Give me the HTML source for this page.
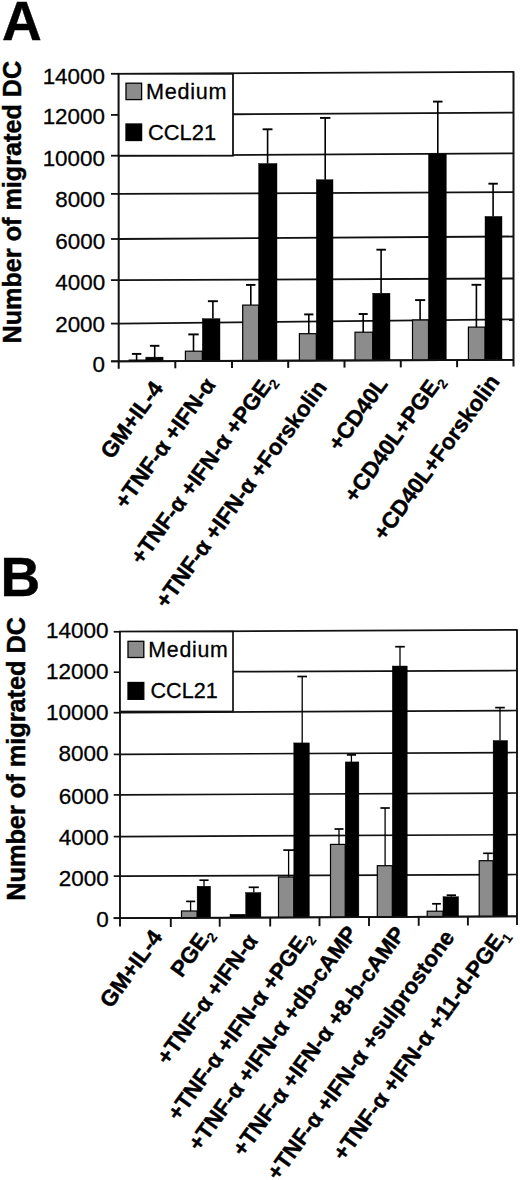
<!DOCTYPE html><html><head><meta charset="utf-8"><style>html,body{margin:0;padding:0;background:#fff;}svg{display:block;}text{font-family:"Liberation Sans",sans-serif;fill:#000;stroke:#000;stroke-width:0.3px;} text.b{stroke-width:0.45px;}</style></head><body>
<svg width="520" height="1180" viewBox="0 0 520 1180">
<rect width="520" height="1180" fill="#fff"/>
<line x1="233.0" y1="114.23" x2="513.5" y2="112.60" stroke="#111" stroke-width="1.8"/>
<line x1="118.7" y1="155.70" x2="513.5" y2="153.40" stroke="#111" stroke-width="1.8"/>
<line x1="118.7" y1="193.90" x2="513.5" y2="192.20" stroke="#111" stroke-width="1.8"/>
<line x1="118.7" y1="239.00" x2="513.5" y2="236.50" stroke="#111" stroke-width="1.8"/>
<line x1="118.7" y1="280.10" x2="513.5" y2="278.50" stroke="#111" stroke-width="1.8"/>
<line x1="118.7" y1="323.60" x2="513.5" y2="319.40" stroke="#111" stroke-width="1.8"/>
<line x1="118.7" y1="361.30" x2="513.5" y2="359.80" stroke="#111" stroke-width="1.8"/>
<line x1="118.7" y1="73.80" x2="513.5" y2="71.90" stroke="#111" stroke-width="1.8"/>
<line x1="111.0" y1="73.80" x2="118.7" y2="73.80" stroke="#111" stroke-width="1.8"/>
<line x1="111.0" y1="114.90" x2="118.7" y2="114.90" stroke="#111" stroke-width="1.8"/>
<line x1="111.0" y1="155.70" x2="118.7" y2="155.70" stroke="#111" stroke-width="1.8"/>
<line x1="111.0" y1="193.90" x2="118.7" y2="193.90" stroke="#111" stroke-width="1.8"/>
<line x1="111.0" y1="239.00" x2="118.7" y2="239.00" stroke="#111" stroke-width="1.8"/>
<line x1="111.0" y1="280.10" x2="118.7" y2="280.10" stroke="#111" stroke-width="1.8"/>
<line x1="111.0" y1="323.60" x2="118.7" y2="323.60" stroke="#111" stroke-width="1.8"/>
<line x1="111.0" y1="361.30" x2="118.7" y2="361.30" stroke="#111" stroke-width="1.8"/>
<rect x="129.2" y="360.1" width="16.6" height="1.1" fill="#8c8c8c" stroke="#000" stroke-width="1.2"/>
<line x1="136.6" y1="360.1" x2="136.6" y2="353.9" stroke="#000" stroke-width="1.6"/>
<line x1="131.9" y1="353.9" x2="141.3" y2="353.9" stroke="#000" stroke-width="1.9"/>
<rect x="145.8" y="357.1" width="17.3" height="4.1" fill="#000" stroke="#000" stroke-width="0.4"/>
<line x1="154.7" y1="357.1" x2="154.7" y2="345.8" stroke="#000" stroke-width="1.6"/>
<line x1="149.9" y1="345.8" x2="159.4" y2="345.8" stroke="#000" stroke-width="1.9"/>
<rect x="185.4" y="351.2" width="16.9" height="9.8" fill="#8c8c8c" stroke="#000" stroke-width="1.2"/>
<line x1="193.5" y1="351.2" x2="193.5" y2="334.4" stroke="#000" stroke-width="1.6"/>
<line x1="188.3" y1="334.4" x2="198.7" y2="334.4" stroke="#000" stroke-width="1.9"/>
<rect x="202.3" y="318.6" width="17.7" height="42.3" fill="#000" stroke="#000" stroke-width="0.4"/>
<line x1="212.9" y1="318.6" x2="212.9" y2="301.2" stroke="#000" stroke-width="1.6"/>
<line x1="207.9" y1="301.2" x2="217.9" y2="301.2" stroke="#000" stroke-width="1.9"/>
<rect x="242.7" y="305.1" width="15.9" height="55.7" fill="#8c8c8c" stroke="#000" stroke-width="1.2"/>
<line x1="250.8" y1="305.1" x2="250.8" y2="284.9" stroke="#000" stroke-width="1.6"/>
<line x1="246.0" y1="284.9" x2="255.5" y2="284.9" stroke="#000" stroke-width="1.9"/>
<rect x="258.6" y="163.5" width="18.4" height="197.2" fill="#000" stroke="#000" stroke-width="0.4"/>
<line x1="267.6" y1="163.5" x2="267.6" y2="129.3" stroke="#000" stroke-width="1.6"/>
<line x1="262.6" y1="129.3" x2="272.5" y2="129.3" stroke="#000" stroke-width="1.9"/>
<rect x="299.4" y="333.7" width="16.9" height="26.9" fill="#8c8c8c" stroke="#000" stroke-width="1.2"/>
<line x1="308.8" y1="333.7" x2="308.8" y2="314.4" stroke="#000" stroke-width="1.6"/>
<line x1="304.2" y1="314.4" x2="313.4" y2="314.4" stroke="#000" stroke-width="1.9"/>
<rect x="316.3" y="179.7" width="16.7" height="180.8" fill="#000" stroke="#000" stroke-width="0.4"/>
<line x1="325.2" y1="179.7" x2="325.2" y2="117.9" stroke="#000" stroke-width="1.6"/>
<line x1="320.0" y1="117.9" x2="330.4" y2="117.9" stroke="#000" stroke-width="1.9"/>
<rect x="355.0" y="332.2" width="17.7" height="28.2" fill="#8c8c8c" stroke="#000" stroke-width="1.2"/>
<line x1="363.2" y1="332.2" x2="363.2" y2="314.0" stroke="#000" stroke-width="1.6"/>
<line x1="358.7" y1="314.0" x2="367.7" y2="314.0" stroke="#000" stroke-width="1.9"/>
<rect x="372.7" y="293.2" width="17.3" height="67.1" fill="#000" stroke="#000" stroke-width="0.4"/>
<line x1="381.1" y1="293.2" x2="381.1" y2="249.7" stroke="#000" stroke-width="1.6"/>
<line x1="376.4" y1="249.7" x2="385.9" y2="249.7" stroke="#000" stroke-width="1.9"/>
<rect x="412.5" y="320.0" width="16.0" height="40.2" fill="#8c8c8c" stroke="#000" stroke-width="1.2"/>
<line x1="420.1" y1="320.0" x2="420.1" y2="300.1" stroke="#000" stroke-width="1.6"/>
<line x1="415.1" y1="300.1" x2="425.2" y2="300.1" stroke="#000" stroke-width="1.9"/>
<rect x="428.5" y="154.0" width="17.8" height="206.1" fill="#000" stroke="#000" stroke-width="0.4"/>
<line x1="437.8" y1="154.0" x2="437.8" y2="101.6" stroke="#000" stroke-width="1.6"/>
<line x1="433.0" y1="101.6" x2="442.5" y2="101.6" stroke="#000" stroke-width="1.9"/>
<rect x="468.4" y="327.1" width="16.6" height="32.8" fill="#8c8c8c" stroke="#000" stroke-width="1.2"/>
<line x1="476.4" y1="327.1" x2="476.4" y2="284.8" stroke="#000" stroke-width="1.6"/>
<line x1="471.5" y1="284.8" x2="481.3" y2="284.8" stroke="#000" stroke-width="1.9"/>
<rect x="485.0" y="216.4" width="17.0" height="143.5" fill="#000" stroke="#000" stroke-width="0.4"/>
<line x1="493.1" y1="216.4" x2="493.1" y2="183.7" stroke="#000" stroke-width="1.6"/>
<line x1="488.4" y1="183.7" x2="497.8" y2="183.7" stroke="#000" stroke-width="1.9"/>
<line x1="111.0" y1="361.30" x2="513.5" y2="359.80" stroke="#111" stroke-width="1.8"/>
<line x1="118.7" y1="73.10" x2="118.7" y2="368.8" stroke="#111" stroke-width="2.0"/>
<line x1="513.5" y1="71.20" x2="513.5" y2="366.5" stroke="#111" stroke-width="2.0"/>
<line x1="175.3" y1="361.1" x2="175.3" y2="368.3" stroke="#111" stroke-width="2.0"/>
<line x1="232.0" y1="360.9" x2="232.0" y2="368.1" stroke="#111" stroke-width="2.0"/>
<line x1="288.2" y1="360.7" x2="288.2" y2="367.9" stroke="#111" stroke-width="2.0"/>
<line x1="344.5" y1="360.4" x2="344.5" y2="367.6" stroke="#111" stroke-width="2.0"/>
<line x1="400.8" y1="360.2" x2="400.8" y2="367.4" stroke="#111" stroke-width="2.0"/>
<line x1="457.1" y1="360.0" x2="457.1" y2="367.2" stroke="#111" stroke-width="2.0"/>
<rect x="118.7" y="73.8" width="114.3" height="81.9" fill="#fff" stroke="#111" stroke-width="1.8"/>
<rect x="126.0" y="83.2" width="15.6" height="16.4" fill="#8c8c8c" stroke="#000" stroke-width="1.3"/>
<rect x="126.0" y="124.0" width="15.6" height="16.5" fill="#000" stroke="#000" stroke-width="1.3"/>
<text x="146.0" y="99.0" font-size="21.6" letter-spacing="0.75">Medium</text>
<text x="148.0" y="139.8" font-size="21.9" letter-spacing="0">CCL21</text>
<text x="104.9" y="83.6" font-size="22.4" text-anchor="end">14000</text>
<text x="104.9" y="123.8" font-size="22.4" text-anchor="end">12000</text>
<text x="104.9" y="165.6" font-size="22.4" text-anchor="end">10000</text>
<text x="105.0" y="206.5" font-size="22.4" text-anchor="end">8000</text>
<text x="105.1" y="248.8" font-size="22.4" text-anchor="end">6000</text>
<text x="105.1" y="290.1" font-size="22.4" text-anchor="end">4000</text>
<text x="105.0" y="331.9" font-size="22.4" text-anchor="end">2000</text>
<text x="105.0" y="372.3" font-size="22.4" text-anchor="end">0</text>
<text transform="translate(21.0,343.5) rotate(-90)" font-size="25.2" font-weight="bold" class="b">Number of migrated DC</text>
<text x="2.0" y="40.3" font-size="55" font-weight="bold" class="b">A</text>
<text transform="translate(164.0,388.4) rotate(-54)" font-size="22.4" font-weight="bold" class="b" text-anchor="end">GM+IL-4</text>
<text transform="translate(216.4,385.1) rotate(-54)" font-size="22.4" font-weight="bold" class="b" text-anchor="end">+TNF-α +IFN-α</text>
<text transform="translate(276.3,380.8) rotate(-54)" font-size="22.4" font-weight="bold" class="b" text-anchor="end">+TNF-α +IFN-α +PGE<tspan font-size="13.9" dy="5" style="stroke-width:0.15px">2</tspan></text>
<text transform="translate(327.8,387.4) rotate(-54)" font-size="22.4" font-weight="bold" class="b" text-anchor="end">+TNF-α +IFN-α +Forskolin</text>
<text transform="translate(388.6,384.2) rotate(-54)" font-size="22.4" font-weight="bold" class="b" text-anchor="end">+CD40L</text>
<text transform="translate(444.6,380.6) rotate(-54)" font-size="22.4" font-weight="bold" class="b" text-anchor="end">+CD40L+PGE<tspan font-size="13.9" dy="5" style="stroke-width:0.15px">2</tspan></text>
<text transform="translate(500.6,381.8) rotate(-54)" font-size="22.4" font-weight="bold" class="b" text-anchor="end">+CD40L+Forskolin</text>
<line x1="233.0" y1="671.72" x2="517.0" y2="670.50" stroke="#111" stroke-width="1.7"/>
<line x1="120.0" y1="712.70" x2="517.0" y2="710.50" stroke="#111" stroke-width="1.7"/>
<line x1="120.0" y1="754.40" x2="517.0" y2="752.50" stroke="#111" stroke-width="1.7"/>
<line x1="120.0" y1="794.90" x2="517.0" y2="793.00" stroke="#111" stroke-width="1.7"/>
<line x1="120.0" y1="836.60" x2="517.0" y2="834.70" stroke="#111" stroke-width="1.7"/>
<line x1="120.0" y1="876.10" x2="517.0" y2="874.50" stroke="#111" stroke-width="1.7"/>
<line x1="120.0" y1="918.20" x2="517.0" y2="916.30" stroke="#111" stroke-width="1.7"/>
<line x1="120.0" y1="631.80" x2="517.0" y2="629.90" stroke="#111" stroke-width="1.7"/>
<line x1="113.7" y1="631.80" x2="120.0" y2="631.80" stroke="#111" stroke-width="1.7"/>
<line x1="113.7" y1="672.20" x2="120.0" y2="672.20" stroke="#111" stroke-width="1.7"/>
<line x1="113.7" y1="712.70" x2="120.0" y2="712.70" stroke="#111" stroke-width="1.7"/>
<line x1="113.7" y1="754.40" x2="120.0" y2="754.40" stroke="#111" stroke-width="1.7"/>
<line x1="113.7" y1="794.90" x2="120.0" y2="794.90" stroke="#111" stroke-width="1.7"/>
<line x1="113.7" y1="836.60" x2="120.0" y2="836.60" stroke="#111" stroke-width="1.7"/>
<line x1="113.7" y1="876.10" x2="120.0" y2="876.10" stroke="#111" stroke-width="1.7"/>
<line x1="113.7" y1="918.20" x2="120.0" y2="918.20" stroke="#111" stroke-width="1.7"/>
<rect x="181.5" y="911.0" width="15.6" height="6.9" fill="#8c8c8c" stroke="#000" stroke-width="1.2"/>
<line x1="190.6" y1="911.0" x2="190.6" y2="901.4" stroke="#000" stroke-width="1.3"/>
<line x1="186.1" y1="901.4" x2="195.2" y2="901.4" stroke="#000" stroke-width="1.7"/>
<rect x="197.1" y="886.2" width="13.5" height="31.6" fill="#000" stroke="#000" stroke-width="0.4"/>
<line x1="204.0" y1="886.2" x2="204.0" y2="880.2" stroke="#000" stroke-width="1.3"/>
<line x1="199.4" y1="880.2" x2="208.6" y2="880.2" stroke="#000" stroke-width="1.7"/>
<rect x="230.0" y="914.2" width="15.6" height="3.4" fill="#000" stroke="#000" stroke-width="0.4"/>
<rect x="245.6" y="892.5" width="15.3" height="25.1" fill="#000" stroke="#000" stroke-width="0.4"/>
<line x1="253.8" y1="892.5" x2="253.8" y2="887.3" stroke="#000" stroke-width="1.3"/>
<line x1="248.7" y1="887.3" x2="258.8" y2="887.3" stroke="#000" stroke-width="1.7"/>
<rect x="278.5" y="877.0" width="15.3" height="40.4" fill="#8c8c8c" stroke="#000" stroke-width="1.2"/>
<line x1="288.6" y1="877.0" x2="288.6" y2="850.1" stroke="#000" stroke-width="1.3"/>
<line x1="283.3" y1="850.1" x2="294.0" y2="850.1" stroke="#000" stroke-width="1.7"/>
<rect x="293.8" y="742.9" width="15.6" height="174.4" fill="#000" stroke="#000" stroke-width="0.4"/>
<line x1="302.2" y1="742.9" x2="302.2" y2="676.5" stroke="#000" stroke-width="1.3"/>
<line x1="297.4" y1="676.5" x2="307.0" y2="676.5" stroke="#000" stroke-width="1.7"/>
<rect x="330.5" y="844.4" width="14.7" height="72.8" fill="#8c8c8c" stroke="#000" stroke-width="1.2"/>
<line x1="339.0" y1="844.4" x2="339.0" y2="829.0" stroke="#000" stroke-width="1.3"/>
<line x1="334.5" y1="829.0" x2="343.5" y2="829.0" stroke="#000" stroke-width="1.7"/>
<rect x="345.2" y="761.9" width="13.7" height="155.2" fill="#000" stroke="#000" stroke-width="0.4"/>
<line x1="351.4" y1="761.9" x2="351.4" y2="754.9" stroke="#000" stroke-width="1.3"/>
<line x1="346.9" y1="754.9" x2="356.0" y2="754.9" stroke="#000" stroke-width="1.7"/>
<rect x="377.3" y="865.7" width="15.0" height="51.2" fill="#8c8c8c" stroke="#000" stroke-width="1.2"/>
<line x1="385.1" y1="865.7" x2="385.1" y2="808.0" stroke="#000" stroke-width="1.3"/>
<line x1="380.4" y1="808.0" x2="389.8" y2="808.0" stroke="#000" stroke-width="1.7"/>
<rect x="392.3" y="666.0" width="14.9" height="250.9" fill="#000" stroke="#000" stroke-width="0.4"/>
<line x1="400.0" y1="666.0" x2="400.0" y2="646.7" stroke="#000" stroke-width="1.3"/>
<line x1="395.2" y1="646.7" x2="404.8" y2="646.7" stroke="#000" stroke-width="1.7"/>
<rect x="427.2" y="911.2" width="15.8" height="5.5" fill="#8c8c8c" stroke="#000" stroke-width="1.2"/>
<line x1="436.5" y1="911.2" x2="436.5" y2="903.8" stroke="#000" stroke-width="1.3"/>
<line x1="432.1" y1="903.8" x2="440.9" y2="903.8" stroke="#000" stroke-width="1.7"/>
<rect x="443.0" y="896.7" width="15.6" height="19.9" fill="#000" stroke="#000" stroke-width="0.4"/>
<line x1="451.4" y1="896.7" x2="451.4" y2="895.2" stroke="#000" stroke-width="1.3"/>
<line x1="446.7" y1="895.2" x2="456.0" y2="895.2" stroke="#000" stroke-width="1.7"/>
<rect x="479.2" y="860.7" width="13.9" height="55.7" fill="#8c8c8c" stroke="#000" stroke-width="1.2"/>
<line x1="488.0" y1="860.7" x2="488.0" y2="853.3" stroke="#000" stroke-width="1.3"/>
<line x1="483.2" y1="853.3" x2="492.8" y2="853.3" stroke="#000" stroke-width="1.7"/>
<rect x="493.1" y="740.5" width="14.5" height="175.9" fill="#000" stroke="#000" stroke-width="0.4"/>
<line x1="500.0" y1="740.5" x2="500.0" y2="707.6" stroke="#000" stroke-width="1.3"/>
<line x1="495.2" y1="707.6" x2="504.8" y2="707.6" stroke="#000" stroke-width="1.7"/>
<line x1="113.7" y1="918.20" x2="517.0" y2="916.30" stroke="#111" stroke-width="1.7"/>
<line x1="120.0" y1="631.10" x2="120.0" y2="926.6" stroke="#111" stroke-width="1.9"/>
<line x1="517.0" y1="629.20" x2="517.0" y2="925.0" stroke="#111" stroke-width="1.9"/>
<line x1="170.8" y1="918.0" x2="170.8" y2="927.0" stroke="#111" stroke-width="1.9"/>
<line x1="219.7" y1="917.7" x2="219.7" y2="926.7" stroke="#111" stroke-width="1.9"/>
<line x1="270.2" y1="917.5" x2="270.2" y2="926.5" stroke="#111" stroke-width="1.9"/>
<line x1="319.5" y1="917.2" x2="319.5" y2="926.2" stroke="#111" stroke-width="1.9"/>
<line x1="369.0" y1="917.0" x2="369.0" y2="926.0" stroke="#111" stroke-width="1.9"/>
<line x1="418.7" y1="916.8" x2="418.7" y2="925.8" stroke="#111" stroke-width="1.9"/>
<line x1="467.9" y1="916.5" x2="467.9" y2="925.5" stroke="#111" stroke-width="1.9"/>
<rect x="120.0" y="631.5" width="113.0" height="80.0" fill="#fff" stroke="#111" stroke-width="1.7"/>
<rect x="128.0" y="641.3" width="15.8" height="16.2" fill="#8c8c8c" stroke="#000" stroke-width="1.3"/>
<rect x="128.0" y="682.5" width="15.8" height="16.8" fill="#000" stroke="#000" stroke-width="1.3"/>
<text x="148.3" y="657.0" font-size="21.3" letter-spacing="0.75">Medium</text>
<text x="150.5" y="698.0" font-size="21.6" letter-spacing="0">CCL21</text>
<text x="108.6" y="638.1" font-size="22.5" text-anchor="end">14000</text>
<text x="108.6" y="678.5" font-size="22.5" text-anchor="end">12000</text>
<text x="108.6" y="720.2" font-size="22.5" text-anchor="end">10000</text>
<text x="108.6" y="761.3" font-size="22.5" text-anchor="end">8000</text>
<text x="108.7" y="803.8" font-size="22.5" text-anchor="end">6000</text>
<text x="108.7" y="844.9" font-size="22.5" text-anchor="end">4000</text>
<text x="108.7" y="886.0" font-size="22.5" text-anchor="end">2000</text>
<text x="108.7" y="926.6" font-size="22.5" text-anchor="end">0</text>
<text transform="translate(25.3,900.8) rotate(-90)" font-size="25.3" font-weight="bold" class="b">Number of migrated DC</text>
<text x="0.6" y="596.0" font-size="55" font-weight="bold" class="b">B</text>
<text transform="translate(163.4,937.2) rotate(-54)" font-size="22.4" font-weight="bold" class="b" text-anchor="end">GM+IL-4</text>
<text transform="translate(214.1,934.1) rotate(-54)" font-size="22.4" font-weight="bold" class="b" text-anchor="end">PGE<tspan font-size="13.9" dy="5" style="stroke-width:0.15px">2</tspan></text>
<text transform="translate(258.6,941.0) rotate(-54)" font-size="22.4" font-weight="bold" class="b" text-anchor="end">+TNF-α +IFN-α</text>
<text transform="translate(312.9,937.0) rotate(-54)" font-size="22.4" font-weight="bold" class="b" text-anchor="end">+TNF-α +IFN-α +PGE<tspan font-size="13.9" dy="5" style="stroke-width:0.15px">2</tspan></text>
<text transform="translate(358.4,933.1) rotate(-54)" font-size="22.4" font-weight="bold" class="b" text-anchor="end">+TNF-α +IFN-α +db-cAMP</text>
<text transform="translate(406.3,933.6) rotate(-54)" font-size="22.4" font-weight="bold" class="b" text-anchor="end">+TNF-α +IFN-α +8-b-cAMP</text>
<text transform="translate(455.4,937.4) rotate(-54)" font-size="22.4" font-weight="bold" class="b" text-anchor="end">+TNF-α +IFN-α +sulprostone</text>
<text transform="translate(509.2,934.8) rotate(-54)" font-size="22.4" font-weight="bold" class="b" text-anchor="end">+TNF-α +IFN-α +11-d-PGE<tspan font-size="13.9" dy="5" style="stroke-width:0.15px">1</tspan></text>
</svg></body></html>
